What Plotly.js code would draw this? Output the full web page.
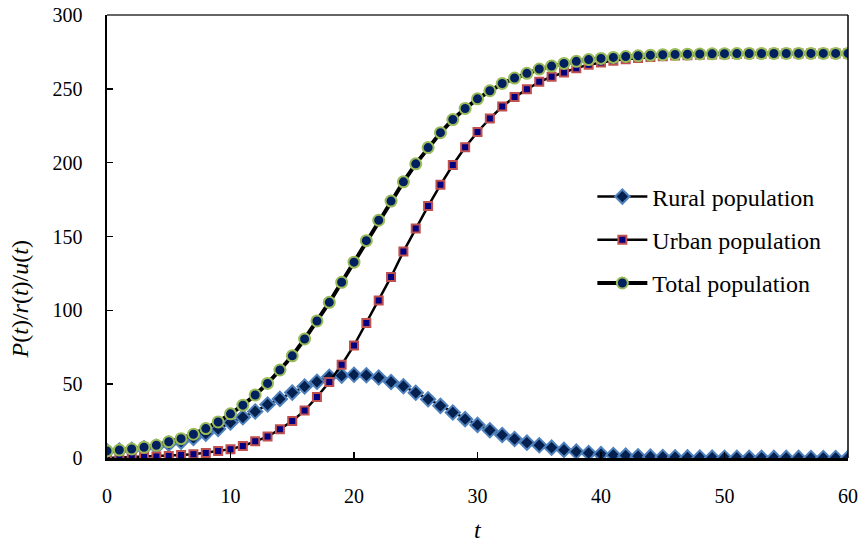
<!DOCTYPE html>
<html>
<head>
<meta charset="utf-8">
<script src="https://cdn.plot.ly/plotly-3.0.1.min.js"></script>
<style>html,body{margin:0;padding:0;background:#fff;}#chart{width:860px;height:546px;}</style>
</head>
<body>
<div id="chart"></div>
<script>
var t = [];
for (var i = 0; i <= 60; i++) t.push(i);

var rural = [4.6, 5.1, 5.6, 6.6, 7.6, 9.7, 11.1, 13.6, 16.5, 19.7, 24.0, 27.6, 31.5, 36.2, 40.0, 44.3, 48.4, 51.6, 55.0, 55.8, 56.4, 56.0, 54.5, 51.5, 48.6, 44.2, 39.8, 35.3, 30.8, 26.3, 22.4, 18.8, 15.6, 12.9, 10.4, 8.6, 7.0, 5.5, 4.3, 3.4, 2.6, 2.0, 1.6, 1.2, 0.9, 0.7, 0.5, 0.4, 0.3, 0.25, 0.2, 0.15, 0.12, 0.1, 0.08, 0.06, 0.05, 0.04, 0.03, 0.02, 0.02];
var urban = [0, 0.3, 0.5, 0.7, 1.0, 1.3, 2.0, 2.5, 3.4, 4.7, 6.0, 8.1, 11.3, 14.5, 19.5, 25.1, 32.1, 41.3, 51.4, 63.1, 76.2, 91.4, 106.6, 122.6, 139.8, 155.4, 170.6, 185.0, 198.4, 210.4, 220.8, 229.9, 238.0, 244.4, 249.8, 254.8, 258.2, 261.1, 264.0, 266.3, 267.8, 269.1, 270.1, 270.9, 271.6, 272.1, 272.5, 272.8, 273.1, 273.3, 273.5, 273.6, 273.7, 273.8, 273.85, 273.9, 273.9, 273.95, 273.95, 274.0, 274.0];
var total = [4.8, 5.4, 6.1, 7.3, 8.6, 11.0, 13.1, 16.1, 19.9, 24.4, 29.9, 35.8, 42.7, 50.5, 59.6, 69.2, 80.6, 92.8, 105.4, 119.0, 132.6, 147.2, 161.0, 174.0, 187.0, 199.2, 210.2, 220.3, 229.2, 236.7, 243.2, 248.7, 253.6, 257.3, 260.5, 263.4, 265.4, 267.2, 268.6, 269.8, 270.6, 271.3, 271.9, 272.4, 272.8, 273.1, 273.3, 273.5, 273.6, 273.7, 273.8, 273.85, 273.9, 273.9, 273.95, 273.95, 274.0, 274.0, 274.0, 274.0, 274.0];

var seriesNames = ['Rural population', 'Urban population', 'Total population'];
var xTicks = [0, 10, 20, 30, 40, 50, 60];
var yTicks = [0, 50, 100, 150, 200, 250, 300];
var xTitle = '<i>t</i>';
var yTitle = '<i>P</i>(<i>t</i>)/<i>r</i>(<i>t</i>)/<i>u</i>(<i>t</i>)';

var font = 'Liberation Serif, Times New Roman, serif';

var traces = [
  {x: t, y: rural, name: seriesNames[0], mode: 'lines+markers', legendgroup: 'a',
   line: {color: '#000', width: 2.5},
   marker: {symbol: 'diamond', size: 11, color: '#04204F', line: {color: '#4F81BD', width: 2}}},
  {x: t, y: urban, name: seriesNames[1], mode: 'lines+markers', legendgroup: 'b',
   line: {color: '#000', width: 2.5},
   marker: {symbol: 'square', size: 8, color: '#000080', line: {color: '#C0504D', width: 2}}},
  {x: t, y: total, name: seriesNames[2], mode: 'lines+markers', legendgroup: 'c',
   line: {color: '#000', width: 4},
   marker: {symbol: 'circle', size: 11, color: '#002060', line: {color: '#9BBB59', width: 2}}}
];

var layout = {
  width: 860, height: 546,
  margin: {l: 107, r: 12, t: 15, b: 88},
  paper_bgcolor: '#fff', plot_bgcolor: '#fff',
  font: {family: font, color: '#000', size: 20},
  showlegend: true,
  legend: {x: 0.655, y: 0.64, xanchor: 'left', yanchor: 'top', traceorder: 'grouped',
           tracegroupgap: 9, itemwidth: 50, font: {family: font, size: 24, color: '#000'},
           bgcolor: 'rgba(0,0,0,0)'},
  xaxis: {range: [0, 60], tickvals: xTicks, ticktext: xTicks.map(String), ticks: 'inside', ticklen: 6,
          tickwidth: 1.5, tickcolor: '#000', showgrid: false, zeroline: false,
          showline: true, linecolor: '#000', linewidth: 2.5, mirror: false,
          ticklabelstandoff: 18,
          tickfont: {family: font, size: 20}},
  yaxis: {range: [0, 300], tickvals: yTicks, ticktext: yTicks.map(String), ticks: 'inside', ticklen: 6,
          tickwidth: 1.5, tickcolor: '#000', showgrid: false, zeroline: false,
          showline: true, linecolor: '#000', linewidth: 2.5,
          ticklabelstandoff: 18,
          tickfont: {family: font, size: 20}},
  annotations: [
    {text: xTitle, xref: 'paper', yref: 'paper', x: 0.5, y: -0.162, xanchor: 'center', yanchor: 'middle',
     showarrow: false, font: {family: font, size: 24}},
    {text: yTitle, xref: 'paper', yref: 'paper', x: -0.118, y: 0.357, xanchor: 'center', yanchor: 'middle',
     textangle: -90, showarrow: false, font: {family: font, size: 24}}
  ],
  shapes: [
    {type: 'line', xref: 'paper', yref: 'paper', x0: 0, x1: 1, y0: 1, y1: 1, line: {color: '#333', width: 1.5}},
    {type: 'line', xref: 'paper', yref: 'paper', x0: 1, x1: 1, y0: 0, y1: 1, line: {color: '#000', width: 1.5}}
  ]
};

Plotly.newPlot('chart', traces, layout, {displayModeBar: false, staticPlot: true});
</script>
</body>
</html>
